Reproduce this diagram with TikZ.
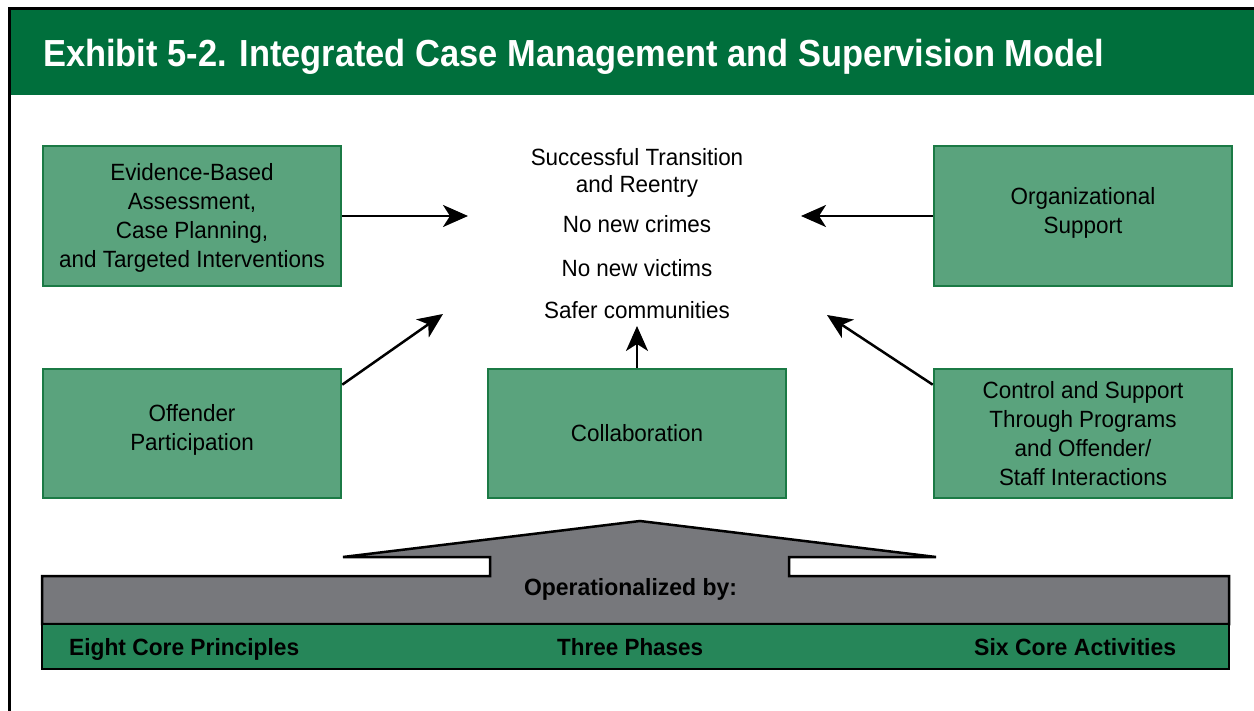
\documentclass[tikz,border=0pt]{standalone}
\usepackage{fontspec}
\setmainfont{Liberation Sans}
\usetikzlibrary{arrows.meta}
\definecolor{hdr}{HTML}{006F3C}
\definecolor{boxfill}{HTML}{5AA37D}
\definecolor{boxline}{HTML}{1B7A45}
\definecolor{grayf}{HTML}{77787C}
\definecolor{barg}{HTML}{268659}
\newcommand{\rt}[1]{\scalebox{0.955}[1]{\begin{tabular}{@{}c@{}}#1\end{tabular}}}
\newcommand{\rtt}[1]{\scalebox{0.955}[1]{\begin{tabular}[t]{@{}c@{}}#1\end{tabular}}}
\newcommand{\shiftup}[2]{\raisebox{#1}[\height][\depth]{#2}}
\tikzset{
  greenbox/.style={draw=boxline, line width=2.5pt, fill=boxfill, minimum width=298pt, inner sep=0pt, font=\fontsize{23.5}{29}\selectfont},
  topbox/.style={greenbox, minimum height=140pt},
  midbox/.style={greenbox, minimum height=129pt},
  goaltext/.style={anchor=base, inner sep=0pt, font=\fontsize{23.5}{27}\selectfont},
  boldlabel/.style={anchor=base west, inner sep=0pt, font=\bfseries\fontsize{23.5}{26}\selectfont},
  arr/.style={line width=2.5pt, -{Stealth[length=25pt,width=22pt,inset=7pt]}},
  outline/.style={draw=black, line width=2.5pt, line join=miter}
}
\begin{document}
\begin{tikzpicture}[x=1pt,y=-1pt]
\useasboundingbox (0,0) rectangle (1254,711);
\fill[white] (0,0) rectangle (1254,711);
% header
\fill[hdr] (9,9) rectangle (1254,95);
\draw[line width=3pt] (9.5,711) -- (9.5,8.5) -- (1254,8.5);
\node[anchor=base west, inner sep=0pt, text=white, font=\bfseries\fontsize{37.7}{40}\selectfont] (title) at (43,67)
  {\resizebox{1061pt}{\height}{Exhibit 5-2. Integrated Case Management and Supervision Model}};

% boxes
\node[topbox] (ebox) at (192,216) {\shiftup{-2pt}{\rt{Evidence-Based\\Assessment,\\Case Planning,\\and Targeted Interventions}}};
\node[topbox] (org) at (1083,216) {\shiftup{3pt}{\rt{Organizational\\Support}}};
\node[midbox] (off) at (192,433.5) {\shiftup{3pt}{\rt{Offender\\Participation}}};
\node[midbox] (collab) at (637,433.5) {\shiftup{-2pt}{\rt{Collaboration}}};
\node[midbox] (ctrl) at (1083,433.5) {\shiftup{-3pt}{\rt{Control and Support\\Through Programs\\and Offender/\\Staff Interactions}}};

% goals
\node[goaltext] (g1) at (637,166) {\rtt{Successful Transition\\and Reentry}};
\node[goaltext] (g2) at (637,233) {\rt{No new crimes}};
\node[goaltext] (g3) at (637,277) {\rt{No new victims}};
\node[goaltext] (g4) at (637,319) {\rt{Safer communities}};

% arrow tips
\coordinate (t1) at (468,216);
\coordinate (t2) at (801,216);
\coordinate (t3) at (443,314);
\coordinate (t4) at (637,326);
\coordinate (t5) at (827,315);
\draw[arr] (ebox.east) -- (t1);
\draw[arr] (org.west) -- (t2);
\draw[arr] (off.18) -- (t3);
\draw[arr] (collab.north) -- (t4);
\draw[arr] (ctrl.162) -- (t5);

% foundation shape
\path[outline, fill=grayf] (343,557) -- (640,521) -- (936,557) -- (789,557) -- (789,576) -- (1229,576)
  -- (1229,624) -- (42,624) -- (42,576) -- (490,576) -- (490,557) -- cycle;
\path[outline, fill=barg] (42,624) rectangle (1229,669);

\node[anchor=base, inner sep=0pt, font=\bfseries\fontsize{23.5}{26}\selectfont] (opby) at (630.5,595)
  {\resizebox{213pt}{\height}{Operationalized by:}};
\node[boldlabel] (p1) at (69,655) {\resizebox{230pt}{\height}{Eight Core Principles}};
\node[boldlabel] (p2) at (557,655) {\resizebox{146pt}{\height}{Three Phases}};
\node[boldlabel] (p3) at (974,655) {\resizebox{202pt}{\height}{Six Core Activities}};
\end{tikzpicture}
\end{document}
